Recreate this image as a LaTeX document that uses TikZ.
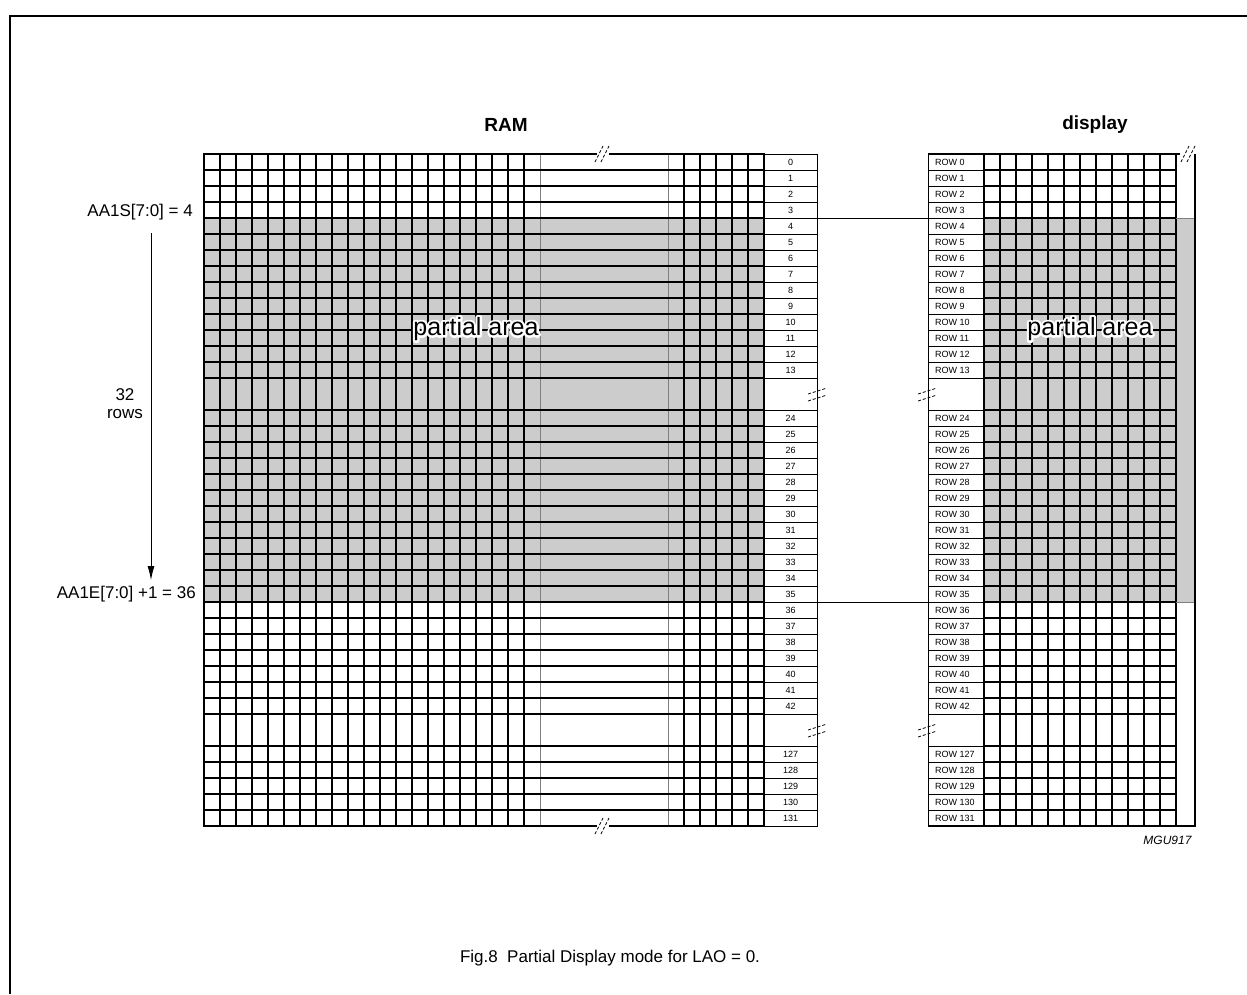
\documentclass[tikz,border=0pt]{standalone}
\usepackage{fontspec}
\setmainfont{Liberation Sans}
\usetikzlibrary{arrows.meta}
\definecolor{areaGray}{HTML}{CCCCCC}
\tikzset{
  gridline/.style={line width=1.3pt},
  thinline/.style={line width=0.8pt},
  borderline/.style={line width=1.8pt},
  breakmark/.style={line width=0.8pt, dash pattern=on 3pt off 2pt},
  rowlabel/.style={font=\fontsize{9}{10}\selectfont, inner sep=0pt},
  sidelabel/.style={font=\fontsize{17}{18}\selectfont, inner sep=0pt},
  areatext/.style={font=\fontsize{25}{26}\selectfont, inner sep=0pt},
}
% white outline behind a text
\newcommand{\haloText}[1]{\special{pdf:literal direct 1 1 1 RG 4.5 w 1 j 1 Tr}#1\special{pdf:literal direct 0 Tr}}

\begin{document}
\begin{tikzpicture}[x=1pt, y=-1pt]
  \useasboundingbox (0,0) rectangle (1247,994);
  % Frame
  \draw[line width=1.5pt] (10,994) -- (10,16) -- (1247,16);
  % Partial area shading
  \fill[areaGray] (204,218) rectangle (764,602);
  \fill[areaGray] (984,218) rectangle (1195,602);

  % RAM grid
  \foreach \x in {220,236,...,524} \draw[gridline] (\x,154) -- (\x,826);
  \foreach \x in {684,700,...,748} \draw[gridline] (\x,154) -- (\x,826);
  \draw[gray, thinline] (540,154) -- (540,826);
  \draw[gray, thinline] (668,154) -- (668,826);
  \foreach \k in {1,...,14} \draw[gridline] (204,{154+16*\k}) -- (764,{154+16*\k});
  \foreach \k in {16,...,35} \draw[gridline] (204,{154+16*\k}) -- (764,{154+16*\k});
  \foreach \k in {37,...,41} \draw[gridline] (204,{154+16*\k}) -- (764,{154+16*\k});
  \draw[borderline] (597,154) -- (204,154) -- (204,826) -- (597,826);
  \draw[borderline] (609,154) -- (764,154) -- (764,826) -- (609,826);
  \foreach \d in {0,6} {
    \draw[breakmark] (595+\d,162) -- (603+\d,146);
    \draw[breakmark] (595+\d,834) -- (603+\d,818);
  }

  % RAM row numbers
  \draw[thinline] (764,154) rectangle (817,826);
  \foreach \k in {1,...,14} \draw[thinline] (764,{154+16*\k}) -- (817,{154+16*\k});
  \foreach \k in {16,...,35} \draw[thinline] (764,{154+16*\k}) -- (817,{154+16*\k});
  \foreach \k in {37,...,41} \draw[thinline] (764,{154+16*\k}) -- (817,{154+16*\k});
  \foreach \n in {0,...,13} \node[rowlabel] (ram\n) at (790.5,{162+16*\n}) {\n};
  \foreach \n in {24,...,42} \node[rowlabel] (ram\n) at (790.5,{162+16*(\n-8)}) {\n};
  \foreach \n in {127,...,131} \node[rowlabel] (ram\n) at (790.5,{162+16*(\n-90)}) {\n};
  \foreach \y in {394,730} \foreach \d in {0,7} {
    \draw[breakmark] (808,{\y+\d}) -- (827,{\y-6+\d});
    \draw[breakmark] (918,{\y+\d}) -- (937,{\y-6+\d});
  }

  % Display grid
  \foreach \x in {1000,1016,...,1160} \draw[gridline] (\x,154) -- (\x,826);
  \draw[gridline] (1176,154) -- (1176,826);
  \foreach \k in {1,...,14} \draw[gridline] (984,{154+16*\k}) -- (1176,{154+16*\k});
  \foreach \k in {16,...,35} \draw[gridline] (984,{154+16*\k}) -- (1176,{154+16*\k});
  \foreach \k in {37,...,41} \draw[gridline] (984,{154+16*\k}) -- (1176,{154+16*\k});
  \draw[gray, thinline] (1176,218) -- (1195,218);
  \draw[gray, thinline] (1176,602) -- (1195,602);
  \draw[borderline] (984,154) -- (984,826);
  \draw[borderline] (1180,154) -- (928,154);
  \draw[borderline] (928,826) -- (1195,826) -- (1195,154);
  \foreach \d in {0,6} \draw[breakmark] (1181+\d,162) -- (1189+\d,146);

  % Display row labels
  \draw[thinline] (928,154) rectangle (984,826);
  \foreach \k in {1,...,14} \draw[thinline] (928,{154+16*\k}) -- (984,{154+16*\k});
  \foreach \k in {16,...,35} \draw[thinline] (928,{154+16*\k}) -- (984,{154+16*\k});
  \foreach \k in {37,...,41} \draw[thinline] (928,{154+16*\k}) -- (984,{154+16*\k});
  \foreach \n in {0,...,13} \node[rowlabel, anchor=west] (row\n) at (935,{162+16*\n}) {ROW \n};
  \foreach \n in {24,...,42} \node[rowlabel, anchor=west] (row\n) at (935,{162+16*(\n-8)}) {ROW \n};
  \foreach \n in {127,...,131} \node[rowlabel, anchor=west] (row\n) at (935,{162+16*(\n-90)}) {ROW \n};

  % Links between RAM and display
  \coordinate (ramstart) at (817,218);
  \coordinate (dispstart) at (928,218);
  \coordinate (ramend) at (817,602);
  \coordinate (dispend) at (928,602);
  \draw[thinline] (ramstart) -- (dispstart);
  \draw[thinline] (ramend) -- (dispend);

  % Partial area labels
  \node[areatext] (paramhalo) at (476,329) {\haloText{partial area}};
  \node[areatext] (param) at (476,329) {partial area};
  \node[areatext] (padisphalo) at (1090,329) {\haloText{partial area}};
  \node[areatext] (padisp) at (1090,329) {partial area};

  % Titles
  \node[font=\bfseries\fontsize{19}{20}\selectfont] (ramtitle) at (506,125) {RAM};
  \node[font=\bfseries\fontsize{19}{20}\selectfont] (disptitle) at (1095,125) {display};

  % Row range on the left
  \node[sidelabel, anchor=east] (startlbl) at (193,212) {AA1S[7:0] = 4};
  \node[sidelabel, anchor=east] (endlbl) at (196,594) {AA1E[7:0] +1 = 36};
  \node[sidelabel, align=center] (rowslbl) at (125,404) {32\\rows};
  \coordinate (arrtop) at (151,233);
  \coordinate (arrbot) at (151,580);
  \draw[thinline, -{Latex[length=14pt,width=7pt]}] (arrtop) -- (arrbot);

  % Caption
  \node[font=\itshape\fontsize{12}{12}\selectfont, anchor=east] (figcode) at (1195,840) {MGU917};
  \node[font=\fontsize{17}{18}\selectfont] (caption) at (610,958) {Fig.8\ \ Partial Display mode for LAO = 0.};
\end{tikzpicture}
\end{document}
